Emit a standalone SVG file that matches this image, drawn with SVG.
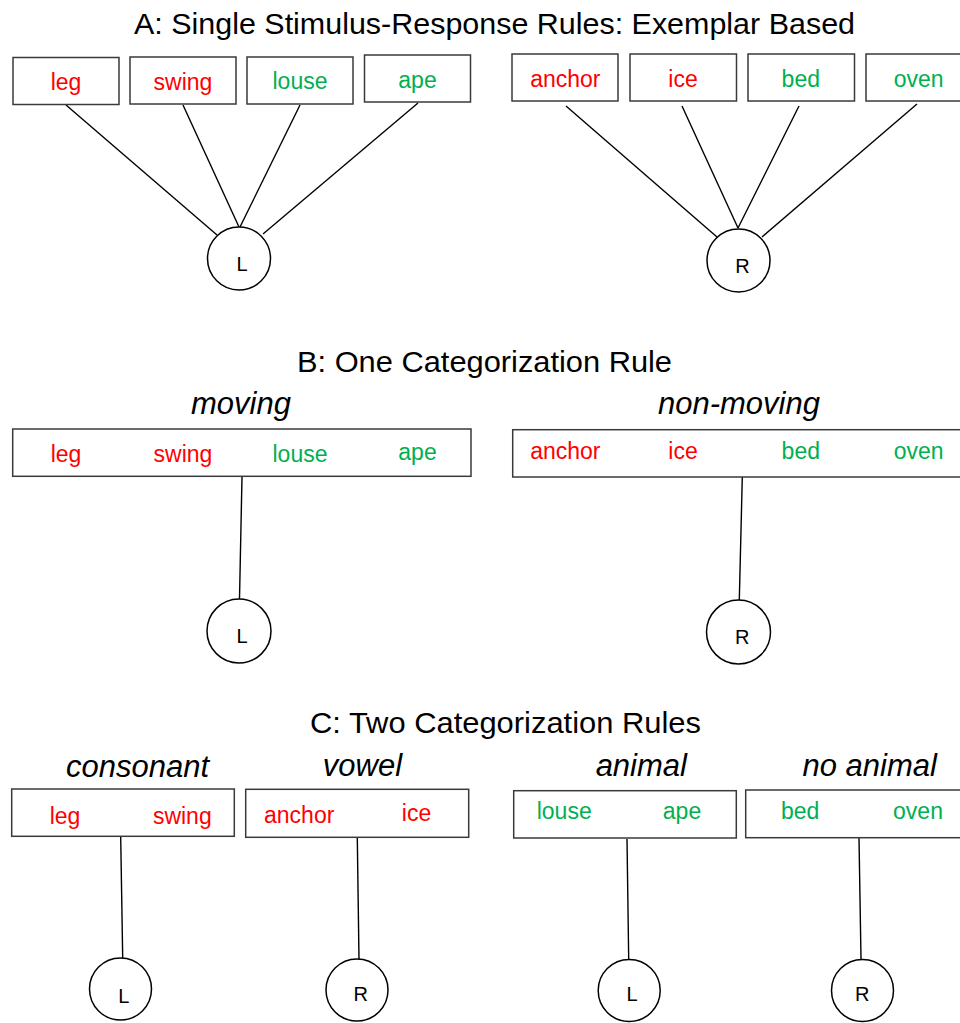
<svg xmlns="http://www.w3.org/2000/svg" width="960" height="1023" viewBox="0 0 960 1023">
<style>
.box{fill:#fff;stroke:#3a3a3a;stroke-width:1.5}
.node{fill:#fff;stroke:#000;stroke-width:1.5}
.edge{stroke:#000;stroke-width:1.4;fill:none}
.title{font-family:"Liberation Sans",Arial,sans-serif;font-size:29px;fill:#000;text-anchor:start}
.cat{font-family:"Liberation Sans",Arial,sans-serif;font-size:31px;font-style:italic;fill:#000;text-anchor:middle}
.w{font-family:"Liberation Sans",Arial,sans-serif;font-size:23px;text-anchor:middle}
.r{fill:#ff0000}
.g{fill:#00b050}
.lbl{font-family:"Liberation Sans",Arial,sans-serif;font-size:20px;fill:#000;text-anchor:middle}
</style>
<rect width="960" height="1023" fill="#fff"/>

<g id="titles">
<text class="title" x="134" y="34" textLength="721" lengthAdjust="spacingAndGlyphs">A: Single Stimulus-Response Rules: Exemplar Based</text>
<text class="title" x="297" y="372" textLength="375" lengthAdjust="spacingAndGlyphs">B: One Categorization Rule</text>
<text class="title" x="310" y="733" textLength="391" lengthAdjust="spacingAndGlyphs">C: Two Categorization Rules</text>
</g>

<g id="connectors">
<line class="edge" x1="66" y1="105" x2="217" y2="235"/>
<line class="edge" x1="183" y1="105" x2="239" y2="227"/>
<line class="edge" x1="300" y1="105" x2="240" y2="227"/>
<line class="edge" x1="418" y1="103" x2="263" y2="234"/>
<line class="edge" x1="566" y1="106" x2="717" y2="237"/>
<line class="edge" x1="682" y1="106" x2="738" y2="228"/>
<line class="edge" x1="799" y1="106" x2="738" y2="228"/>
<line class="edge" x1="917" y1="104" x2="762" y2="237"/>
<line class="edge" x1="242" y1="477" x2="239.5" y2="599"/>
<line class="edge" x1="742.3" y1="477" x2="739.3" y2="600"/>
<line class="edge" x1="120.7" y1="837" x2="122.7" y2="958"/>
<line class="edge" x1="357.3" y1="838" x2="359" y2="959"/>
<line class="edge" x1="627" y1="839" x2="628.7" y2="959"/>
<line class="edge" x1="859" y1="838" x2="861" y2="959"/>
</g>

<!-- Section A -->
<g id="a-leg"><rect class="box" x="13" y="57.5" width="106" height="47"/><text class="w r" x="66" y="90">leg</text></g>
<g id="a-swing"><rect class="box" x="130" y="57" width="106" height="47"/><text class="w r" x="183" y="90">swing</text></g>
<g id="a-louse"><rect class="box" x="247" y="57" width="106" height="47"/><text class="w g" x="300" y="89">louse</text></g>
<g id="a-ape"><rect class="box" x="364.5" y="55" width="106" height="47"/><text class="w g" x="417.5" y="88">ape</text></g>
<g id="a-anchor"><rect class="box" x="512" y="54" width="106" height="47"/><text class="w r" x="565.3" y="87">anchor</text></g>
<g id="a-ice"><rect class="box" x="630" y="54" width="106.5" height="47"/><text class="w r" x="683" y="87">ice</text></g>
<g id="a-bed"><rect class="box" x="748" y="54" width="106.5" height="47"/><text class="w g" x="800.8" y="87">bed</text></g>
<g id="a-oven"><rect class="box" x="866" y="54" width="106" height="47"/><text class="w g" x="918.7" y="87">oven</text></g>
<g id="a-L"><circle class="node" cx="239" cy="258.5" r="31.5"/><text class="lbl" x="242" y="271">L</text></g>
<g id="a-R"><circle class="node" cx="738.5" cy="260.5" r="31.5"/><text class="lbl" x="742.5" y="273">R</text></g>

<!-- Section B -->
<g id="b-moving">
<text class="cat" x="241" y="414">moving</text>
<rect class="box" x="12.7" y="429" width="458.3" height="47.3"/>
<text class="w r" x="66" y="462">leg</text>
<text class="w r" x="183" y="462">swing</text>
<text class="w g" x="300" y="462">louse</text>
<text class="w g" x="417.5" y="459.5">ape</text>
</g>
<g id="b-nonmoving">
<text class="cat" x="739" y="414">non-moving</text>
<rect class="box" x="512.7" y="429.7" width="460" height="47.3"/>
<text class="w r" x="565.3" y="459">anchor</text>
<text class="w r" x="683" y="459">ice</text>
<text class="w g" x="800.8" y="459">bed</text>
<text class="w g" x="918.7" y="459">oven</text>
</g>
<g id="b-L"><circle class="node" cx="239" cy="631" r="32"/><text class="lbl" x="242" y="643">L</text></g>
<g id="b-R"><circle class="node" cx="738.5" cy="632" r="32"/><text class="lbl" x="742.3" y="644">R</text></g>

<!-- Section C -->
<g id="c-consonant">
<text class="cat" x="137.5" y="777">consonant</text>
<rect class="box" x="11.7" y="789" width="222.6" height="47.3"/>
<text class="w r" x="65" y="823.5">leg</text>
<text class="w r" x="182.3" y="823.5">swing</text>
</g>
<g id="c-vowel">
<text class="cat" x="362.5" y="776">vowel</text>
<rect class="box" x="245.7" y="789.3" width="223" height="48"/>
<text class="w r" x="299.2" y="823">anchor</text>
<text class="w r" x="416.5" y="820.7">ice</text>
</g>
<g id="c-animal">
<text class="cat" x="641.3" y="776">animal</text>
<rect class="box" x="513.7" y="790.7" width="222.6" height="47.3"/>
<text class="w g" x="564.2" y="819.3">louse</text>
<text class="w g" x="682" y="819.3">ape</text>
</g>
<g id="c-noanimal">
<text class="cat" x="869.7" y="776">no animal</text>
<rect class="box" x="745.7" y="790" width="223" height="47.7"/>
<text class="w g" x="800.2" y="819">bed</text>
<text class="w g" x="918" y="819">oven</text>
</g>
<g id="c-L1"><circle class="node" cx="120.5" cy="989" r="31"/><text class="lbl" x="123.7" y="1003">L</text></g>
<g id="c-R1"><circle class="node" cx="357" cy="990" r="31"/><text class="lbl" x="360.7" y="1001">R</text></g>
<g id="c-L2"><circle class="node" cx="629.2" cy="990.5" r="31"/><text class="lbl" x="632" y="1001">L</text></g>
<g id="c-R2"><circle class="node" cx="862.5" cy="990.5" r="31"/><text class="lbl" x="862.3" y="1001">R</text></g>
</svg>
